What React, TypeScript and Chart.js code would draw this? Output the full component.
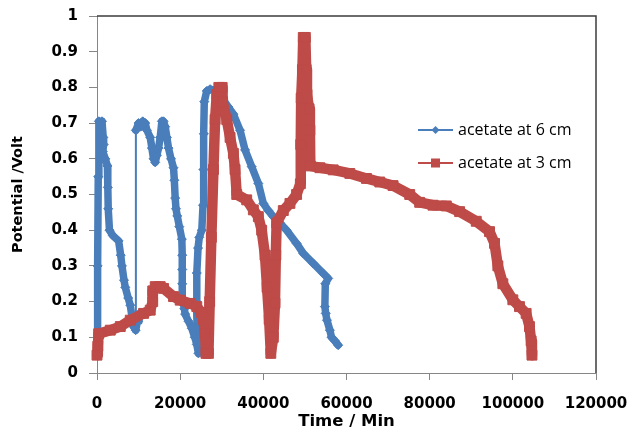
import React, { useEffect, useRef } from "react";
import { Chart, registerables } from "chart.js";

Chart.register(...registerables);

// ---------- data ----------
const seriesNames = ["acetate at 6 cm", "acetate at 3 cm"];
const xTickValues = [0, 20000, 40000, 60000, 80000, 100000, 120000];
const yTickValues = [0, 0.1, 0.2, 0.3, 0.4, 0.5, 0.6, 0.7, 0.8, 0.9, 1];

// acetate at 6 cm (Time / Min, Potential / Volt)
const blueX = [
  0, 150, 300, 450, 1200, 1500, 1600, 1400, 2000, 2500, 2600, 2700, 3000, 3800, 5200, 5700,
  6000, 6500, 6800, 7500, 8000, 8500, 8800, 9900, 10100, 9300, 9350, 10000, 10500, 11000,
  11600, 12000, 12800, 13200, 13600, 14000, 14400, 14800, 15200, 15600, 16000, 16400, 16800,
  17200, 17800, 18400, 18600, 18800, 19000, 19300, 19800, 20400, 20500, 20500, 20500, 20500,
  21000, 21200, 22000, 22800, 23500, 24000, 24400, 24100, 23900, 24000, 24300, 24600, 25200,
  25500, 25600, 25700, 25800, 26400, 27200, 28800, 30400, 31600, 32800, 34400, 35600, 37200,
  38800, 40000, 41200, 42400, 44000, 45600, 48000, 49600, 52000, 54400, 55600, 54900, 54800,
  55000, 55300, 56000, 56400, 57200, 58000,
];
const blueY = [
  0.05, 0.3, 0.55, 0.705, 0.705, 0.66, 0.64, 0.62, 0.6, 0.58, 0.52, 0.46, 0.4, 0.385, 0.37, 0.33,
  0.3, 0.26, 0.24, 0.21, 0.19, 0.15, 0.13, 0.145, 0.165, 0.12, 0.68, 0.7, 0.69, 0.705,
  0.7, 0.68, 0.66, 0.63, 0.6, 0.59, 0.61, 0.63, 0.66, 0.705, 0.705, 0.69, 0.66,
  0.63, 0.6, 0.575, 0.54, 0.49, 0.46, 0.44, 0.41, 0.375, 0.33, 0.29, 0.25, 0.21,
  0.18, 0.165, 0.145, 0.125, 0.1, 0.08, 0.055, 0.12, 0.2, 0.28, 0.35, 0.38, 0.4,
  0.47, 0.57, 0.67, 0.76, 0.79, 0.795, 0.79, 0.765, 0.745, 0.725, 0.68, 0.625, 0.578,
  0.531, 0.475, 0.455, 0.438, 0.42, 0.4, 0.363, 0.335, 0.307, 0.279, 0.265, 0.25, 0.186,
  0.167, 0.148, 0.12, 0.1, 0.09, 0.078,
];

// acetate at 3 cm
const redX = [
  0, 200, 400, 3200, 5600, 8000, 11200, 12800, 13400, 13400, 14000, 15200, 16000, 18400, 20000,
  22400, 24000, 25000, 25600, 26000, 26200, 26800, 27100, 27500, 28000, 28400, 28800, 29300,
  30100, 30200, 31200, 32000, 32800, 33200, 33600, 36000, 37600, 38800, 39600, 40400, 40900,
  41400, 41800, 42400, 42800, 43000, 43200, 44800, 46400, 48000, 48900, 49000, 49100, 49400,
  49600, 50100, 50300, 50500, 51000, 51200, 51300, 53600, 56800, 60800, 64800, 68000, 71200,
  75200, 77600, 80800, 84000, 87200, 91200, 94400, 95600, 96400, 97600, 100000, 101600, 103200,
  104000, 104400, 104600,
];
const redY = [
  0.05, 0.075, 0.11, 0.12, 0.13, 0.148, 0.167, 0.176, 0.2, 0.23, 0.242, 0.242, 0.237, 0.214, 0.204,
  0.195, 0.186, 0.17, 0.15, 0.11, 0.055, 0.055, 0.2, 0.38, 0.57, 0.71, 0.78, 0.8,
  0.8, 0.76, 0.71, 0.66, 0.615, 0.57, 0.5, 0.485, 0.457, 0.438, 0.4, 0.33, 0.24,
  0.15, 0.055, 0.1, 0.195, 0.33, 0.42, 0.455, 0.475, 0.5, 0.53, 0.64, 0.77, 0.85,
  0.94, 0.94, 0.85, 0.78, 0.74, 0.68, 0.58, 0.575, 0.569, 0.559, 0.545, 0.535, 0.525,
  0.5, 0.478, 0.47, 0.468, 0.452, 0.425, 0.396, 0.363, 0.3, 0.25, 0.205, 0.186, 0.167,
  0.13, 0.09, 0.05,
];

// ---------- styles ----------
const BLUE = "#4a7ebb";
const RED = "#be4b48";
const AXIS_GRAY = "#868686";
const TICK_FONT = { family: "'DejaVu Sans', sans-serif", weight: "bold" as const, size: 15 };

const bandWidth = (thick: number) => (ctx: any) => {
  const dx = ctx.p1.x - ctx.p0.x;
  const dy = ctx.p1.y - ctx.p0.y;
  return Math.hypot(dx, dy) > 100 ? 2 : thick;
};

const framePlugin = {
  id: "frame",
  afterDraw(chart: any) {
    const { ctx, chartArea: a } = chart;
    ctx.save();
    ctx.strokeStyle = "#3c3c3c";
    ctx.lineWidth = 1.5;
    ctx.beginPath();
    ctx.moveTo(a.left, a.top);
    ctx.lineTo(a.right, a.top);
    ctx.lineTo(a.right, a.bottom);
    ctx.stroke();
    ctx.restore();
  },
};

const legendPlugin = {
  id: "insideLegend",
  afterDraw(chart: any) {
    const { ctx, chartArea: a } = chart;
    const x0 = a.right - 178;
    const y0 = a.top + 114;
    const gap = 33;
    const entries = [
      { name: seriesNames[0], color: BLUE, marker: "diamond" },
      { name: seriesNames[1], color: RED, marker: "square" },
    ];
    ctx.save();
    entries.forEach((e, i) => {
      const y = y0 + i * gap;
      ctx.strokeStyle = e.color;
      ctx.lineWidth = 2.2;
      ctx.beginPath();
      ctx.moveTo(x0, y);
      ctx.lineTo(x0 + 35, y);
      ctx.stroke();
      ctx.fillStyle = e.color;
      const cx = x0 + 17.5;
      if (e.marker === "diamond") {
        ctx.beginPath();
        ctx.moveTo(cx, y - 4);
        ctx.lineTo(cx + 4, y);
        ctx.lineTo(cx, y + 4);
        ctx.lineTo(cx - 4, y);
        ctx.closePath();
        ctx.fill();
      } else {
        ctx.fillRect(cx - 4.5, y - 4.5, 9, 9);
      }
      ctx.fillStyle = "#000";
      ctx.font = "16px 'Open Sans', sans-serif";
      ctx.textBaseline = "middle";
      ctx.textAlign = "left";
      ctx.fillText(e.name, x0 + 40, y);
    });
    ctx.restore();
  },
};

export default function App() {
  const canvasRef = useRef<HTMLCanvasElement | null>(null);

  useEffect(() => {
    if (!canvasRef.current) return;
    const chart = new Chart(canvasRef.current, {
      type: "line",
      data: {
        datasets: [
          {
            label: seriesNames[0],
            data: blueX.map((x, i) => ({ x, y: blueY[i] })),
            borderColor: BLUE,
            backgroundColor: BLUE,
            borderWidth: 7.5,
            borderJoinStyle: "round",
            borderCapStyle: "round",
            pointStyle: "rectRot",
            pointRadius: 4.5,
            pointBorderWidth: 1,
            pointBackgroundColor: BLUE,
            pointBorderColor: BLUE,
            pointHoverRadius: 4.5,
            tension: 0,
            fill: false,
            order: 1,
            clip: 10,
            segment: { borderWidth: bandWidth(7.5) },
          },
          {
            label: seriesNames[1],
            data: redX.map((x, i) => ({ x, y: redY[i] })),
            borderColor: RED,
            backgroundColor: RED,
            borderWidth: 10.5,
            borderJoinStyle: "round",
            borderCapStyle: "butt",
            pointStyle: "rect",
            pointRadius: 7,
            pointBorderWidth: 1,
            pointBackgroundColor: RED,
            pointBorderColor: RED,
            pointHoverRadius: 7,
            tension: 0,
            fill: false,
            order: 0,
            clip: 10,
            segment: { borderWidth: bandWidth(10.5) },
          },
        ],
      },
      options: {
        responsive: false,
        maintainAspectRatio: false,
        animation: false,
        devicePixelRatio: 1,
        events: [],
        layout: { padding: { left: 0, top: 16, right: 36, bottom: 0 } },
        plugins: {
          legend: { display: false },
          tooltip: { enabled: false },
        },
        scales: {
          x: {
            type: "linear",
            min: xTickValues[0],
            max: xTickValues[xTickValues.length - 1],
            afterBuildTicks: (scale: any) => {
              scale.ticks = xTickValues.map((v) => ({ value: v }));
            },
            afterFit: (scale: any) => {
              scale.height = 59;
              scale.paddingLeft = 0;
              scale.paddingRight = 0;
            },
            ticks: {
              color: "#000",
              font: TICK_FONT,
              padding: 15,
              maxRotation: 0,
              autoSkip: false,
              callback: (v: any) => String(v),
            },
            grid: {
              display: true,
              drawOnChartArea: false,
              drawTicks: true,
              tickLength: 7,
              color: AXIS_GRAY,
              lineWidth: 1,
            },
            border: { display: true, color: AXIS_GRAY, width: 1 },
            title: {
              display: true,
              text: "Time / Min",
              color: "#000",
              font: { family: "'DejaVu Sans', sans-serif", weight: "bold", size: 16.5 },
              padding: { top: 0, bottom: 0 },
            },
          },
          y: {
            type: "linear",
            min: yTickValues[0],
            max: yTickValues[yTickValues.length - 1],
            afterBuildTicks: (scale: any) => {
              scale.ticks = yTickValues.map((v) => ({ value: v }));
            },
            afterFit: (scale: any) => {
              scale.width = 97;
              scale.paddingTop = 0;
              scale.paddingBottom = 0;
            },
            ticks: {
              color: "#000",
              font: TICK_FONT,
              padding: 11,
              autoSkip: false,
              callback: (v: any) => String(Math.round(Number(v) * 10) / 10),
            },
            grid: {
              display: true,
              drawOnChartArea: false,
              drawTicks: true,
              tickLength: 8,
              color: AXIS_GRAY,
              lineWidth: 1,
            },
            border: { display: true, color: AXIS_GRAY, width: 1 },
            title: {
              display: true,
              text: "Potential /Volt",
              color: "#000",
              font: { family: "'DejaVu Sans', sans-serif", weight: "bold", size: 14.5 },
              padding: { top: 10, bottom: 0 },
            },
          },
        },
      },
      plugins: [framePlugin, legendPlugin],
    } as any);
    return () => chart.destroy();
  }, []);

  return (
    <div style={{ position: "absolute", left: 0, top: 0, width: 632, height: 432, background: "#fff" }}>
      <canvas ref={canvasRef} width={632} height={432} style={{ display: "block" }} />
    </div>
  );
}
